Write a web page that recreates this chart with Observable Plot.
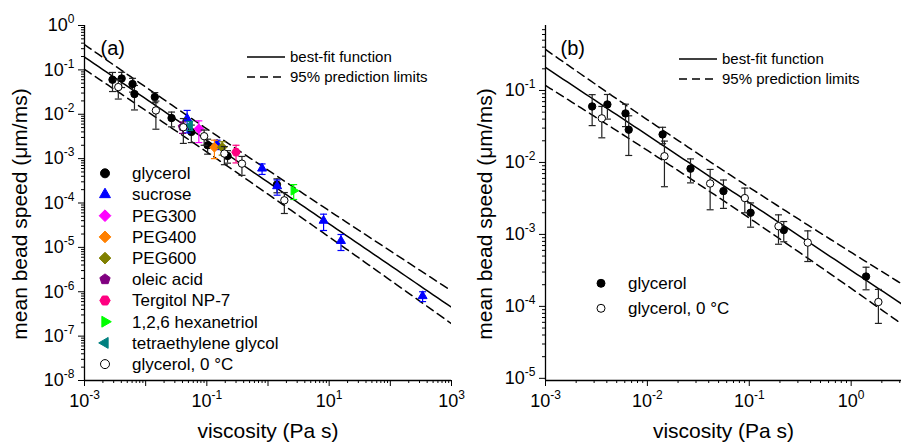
<!DOCTYPE html>
<html><head><meta charset="utf-8">
<script src="https://cdn.jsdelivr.net/npm/d3@7"></script>
<script src="https://cdn.jsdelivr.net/npm/@observablehq/plot@0.6"></script>
<style>
body{margin:0;background:#fff;font-family:"Liberation Sans",Arial,sans-serif;}
#wrap{position:relative;width:901px;height:447px;overflow:hidden;background:#fff;}
.panel{position:absolute;top:0;}
</style></head><body><div id="wrap"></div><script>
// ---------------- data ----------------
const glyEta    = [0.00287,0.00405,0.0061,0.00656,0.0141,0.0265,0.0558,0.103,0.218,1.40];
const glySpeed  = [0.060,0.064,0.048,0.0285,0.0245,0.0082,0.0040,0.0020,0.00115,0.00026];
const glySD     = [0.0275,0.024,0.0165,0.016,0.0063,0.003,0.0017,0.00074,0.00036,0.00009];
const gly0Eta   = [0.00357,0.0147,0.0413,0.0904,0.1935,0.375,1.85];
const gly0Speed = [0.041,0.0122,0.0051,0.0032,0.0013,0.00077,0.000115];
const gly0SD    = [0.019,0.0076,0.0029,0.0012,0.00057,0.00035,0.000057];
const sucEta    = [0.0476,0.147,0.80,1.41,8.1,15.6,337];
const sucSpeed  = [0.0080,0.0021,0.0006,0.00024,4.0e-5,1.4e-5,8.0e-7];
const sucSD     = [0.0042,0.0005,0.00016,0.00009,1.6e-5,5.5e-6,2e-7];
const peg300Eta = [0.074],  peg300Speed = [0.0047],  peg300SD = [0.0024];
const peg400Eta = [0.133],  peg400Speed = [0.0018],  peg400SD = [0.0008];
const peg600Eta = [0.178],  peg600Speed = [0.0018],  peg600SD = [0.0006];
const oleicEta  = [0.040],  oleicSpeed  = [0.0052],  oleicSD  = [0.0015];
const tergEta   = [0.30],   tergSpeed   = [0.0014],  tergSD   = [0.0006];
const hexEta    = [2.63],   hexSpeed    = [0.00019], hexSD    = [0.00007];
const tegEta    = [0.0526], tegSpeed    = [0.0056],  tegSD    = [0.0013];

const seriesNames  = ["glycerol","sucrose","PEG300","PEG400","PEG600","oleic acid","Tergitol NP-7","1,2,6 hexanetriol","tetraethylene glycol","glycerol, 0 °C"];
const seriesColors = ["#000000","#0000FF","#FF00FF","#FF8000","#808000","#800080","#FF0080","#00FF00","#008080","#000000"];
const lineLegend   = ["best-fit function","95% prediction limits"];

// best fit: log10(v) = intercept + slope*log10(eta); prediction half-width s*sqrt(1+(logeta-xm)^2/S)
const fitA = {intercept:-3.53, slope:-0.94, s:0.26, xm:-1.3, S:18};
const fitB = {intercept:-3.50, slope:-0.94, s:0.208, xm:-1.5, S:5};

const xTicksA = [-3,-2,-1,0,1,2,3];
const yTicksA = [-8,-7,-6,-5,-4,-3,-2,-1,0];
const xTicksB = [-3,-2,-1,0];
const yTicksB = [-5,-4,-3,-2,-1];

// ---------------- helpers ----------------
const rows = (eta, v, sd) => eta.map((e,i)=>({eta:e, v:v[i], lo:Math.max(v[i]-sd[i], v[i]*0.05), hi:v[i]+sd[i]}));
const polySym = (n, rot, k) => ({draw(ctx, size){ const R=Math.sqrt(size/Math.PI)*k;
  for(let i=0;i<n;i++){const a=rot+2*Math.PI*i/n; const px=R*Math.cos(a), py=R*Math.sin(a); if(i) ctx.lineTo(px,py); else ctx.moveTo(px,py);} ctx.closePath(); }});
const SYM = {circle:d3.symbolCircle, triUp:polySym(3,-Math.PI/2,1.4), triRight:polySym(3,0,1.4), triLeft:polySym(3,Math.PI,1.4),
  diamond:polySym(4,-Math.PI/2,1.3), pentagon:polySym(5,-Math.PI/2,1.2), hexagon:polySym(6,0,1.15)};
const capSym = {draw(ctx,size){const w=Math.sqrt(size/Math.PI); ctx.moveTo(-w,0); ctx.lineTo(w,0);}};

const seriesA = [
  {rows:rows(glyEta,glySpeed,glySD), symbol:SYM.circle, fill:seriesColors[0], stroke:seriesColors[0], err:"#222"},
  {rows:rows(sucEta,sucSpeed,sucSD), symbol:SYM.triUp, fill:seriesColors[1], stroke:seriesColors[1], err:seriesColors[1]},
  {rows:rows(peg300Eta,peg300Speed,peg300SD), symbol:SYM.diamond, fill:seriesColors[2], stroke:seriesColors[2], err:seriesColors[2]},
  {rows:rows(peg400Eta,peg400Speed,peg400SD), symbol:SYM.diamond, fill:seriesColors[3], stroke:seriesColors[3], err:seriesColors[3]},
  {rows:rows(peg600Eta,peg600Speed,peg600SD), symbol:SYM.diamond, fill:seriesColors[4], stroke:seriesColors[4], err:seriesColors[4]},
  {rows:rows(oleicEta,oleicSpeed,oleicSD), symbol:SYM.pentagon, fill:seriesColors[5], stroke:seriesColors[5], err:seriesColors[5]},
  {rows:rows(tergEta,tergSpeed,tergSD), symbol:SYM.hexagon, fill:seriesColors[6], stroke:seriesColors[6], err:seriesColors[6]},
  {rows:rows(hexEta,hexSpeed,hexSD), symbol:SYM.triRight, fill:seriesColors[7], stroke:seriesColors[7], err:seriesColors[7]},
  {rows:rows(tegEta,tegSpeed,tegSD), symbol:SYM.triLeft, fill:seriesColors[8], stroke:seriesColors[8], err:seriesColors[8]},
  {rows:rows(gly0Eta,gly0Speed,gly0SD), symbol:SYM.circle, fill:"white", stroke:seriesColors[9], err:"#222"}
];
seriesA.forEach((s,i)=>s.name=seriesNames[i]);
const seriesB = [seriesA[0], seriesA[9]];

function fitRows(f, lo, hi){
  return d3.range(0,81).map(i=>{const lx=lo+(hi-lo)*i/80; const ly=f.intercept+f.slope*lx;
    const w=f.s*Math.sqrt(1+(lx-f.xm)**2/f.S);
    return {x:10**lx, y:10**ly, up:10**(ly+w), dn:10**(ly-w)};});
}
const minors = (a,b,max)=>{const r=[]; for(let e=a;e<b;e++) for(let k=2;k<=9;k++){const v=k*10**e; if(v<=max) r.push(v);} return r;};

function seriesMarks(list, r){
  return list.flatMap(s=>[
    Plot.ruleX(s.rows,{x:"eta",y1:"lo",y2:"hi",stroke:s.err,strokeWidth:1.2}),
    Plot.dot(s.rows,{x:"eta",y:"hi",symbol:capSym,r:3.5,stroke:s.err,fill:"none",strokeWidth:1.2}),
    Plot.dot(s.rows,{x:"eta",y:"lo",symbol:capSym,r:3.5,stroke:s.err,fill:"none",strokeWidth:1.2}),
    Plot.dot(s.rows,{x:"eta",y:"v",symbol:s.symbol,r:r,fill:s.fill,stroke:s.stroke,strokeWidth:1})
  ]);
}

function makePanel(cfg){
  const xd=cfg.xDomain, yd=cfg.yDomain;
  const fr = fitRows(cfg.fit, Math.log10(xd[0]), Math.log10(xd[1]));
  return Plot.plot({
    width:cfg.width, height:447,
    marginLeft:cfg.ml, marginRight:cfg.mr, marginTop:25, marginBottom:67,
    x:{type:"log", domain:xd, axis:null},
    y:{type:"log", domain:yd, axis:null},
    style:{fontFamily:"'Liberation Sans', Arial, sans-serif", color:"black", background:"white", overflow:"visible"},
    marks:[
      Plot.line(fr,{x:"x",y:"y",stroke:"black",strokeWidth:1.5,clip:true}),
      Plot.line(fr,{x:"x",y:"up",stroke:"black",strokeWidth:1.5,strokeDasharray:"8,5",clip:true}),
      Plot.line(fr,{x:"x",y:"dn",stroke:"black",strokeWidth:1.5,strokeDasharray:"8,5",clip:true}),
      ...seriesMarks(cfg.series, 3.7),
      Plot.ruleY([yd[0]],{stroke:"black",strokeWidth:1.3}),
      Plot.ruleX([xd[0]],{stroke:"black",strokeWidth:1.3}),
      Plot.axisX(minors(cfg.xTicks[0], cfg.xTicks[cfg.xTicks.length-1]+1, xd[1]),{tickSize:3,tickFormat:()=>"",label:null}),
      Plot.axisY(minors(cfg.yTicks[0], cfg.yTicks[cfg.yTicks.length-1]+1, yd[1]),{tickSize:3,tickFormat:()=>"",label:null}),
      Plot.axisX(cfg.xTicks.map(e=>10**e),{tickSize:6,tickPadding:8,fontSize:18,label:null,
        tickFormat:d=>{const e=Math.round(Math.log10(d)); return cfg.xLabel(e)?("10|"+e):"";}}),
      Plot.axisY(cfg.yTicks.map(e=>10**e),{tickSize:6,tickPadding:4,fontSize:18,label:null,
        tickFormat:d=>"10|"+Math.round(Math.log10(d))}),
      Plot.text(["viscosity (Pa s)"],{frameAnchor:"bottom",dy:57,fontSize:21,textAnchor:"middle"}),
      Plot.text(["mean bead speed (μm/ms)"],{frameAnchor:"left",rotate:-90,dx:cfg.ytdx,dy:11,fontSize:21,textAnchor:"middle"}),
      Plot.text([cfg.tag],{frameAnchor:"top-left",dx:cfg.tagdx,dy:15,fontSize:20,textAnchor:"start"})
    ]
  });
}

function supTicks(svg){
  d3.select(svg).selectAll("text").each(function(){
    const t=this.textContent; if(!t.includes("|")) return;
    const [b,e]=t.split("|"); const s=d3.select(this); s.text(b);
    s.append("tspan").attr("dy","-8").attr("font-size","12px").text(e);
  });
}
function lineLegend_(svg, x0, y0){
  const g=d3.select(svg).append("g").attr("text-anchor","start");
  g.append("line").attr("x1",x0).attr("x2",x0+38).attr("y1",y0).attr("y2",y0).attr("stroke","black").attr("stroke-width",1.5);
  g.append("line").attr("x1",x0).attr("x2",x0+38).attr("y1",y0+20).attr("y2",y0+20).attr("stroke","black").attr("stroke-width",1.5).attr("stroke-dasharray","8,5");
  lineLegend.forEach((t,i)=>g.append("text").attr("text-anchor","start").attr("x",x0+43).attr("y",y0+20*i).attr("dy","0.35em").attr("font-size",15).text(t));
}
function symLegend(svg, list, xs, xt, y0, step, r){
  const g=d3.select(svg).append("g").attr("text-anchor","start");
  list.forEach((s,i)=>{const y=y0+step*i;
    g.append("path").attr("transform",`translate(${xs},${y})`).attr("d",d3.symbol(s.symbol,Math.PI*r*r)())
      .attr("fill",s.fill).attr("stroke",s.stroke).attr("stroke-width",1);
    g.append("text").attr("text-anchor","start").attr("x",xt).attr("y",y).attr("dy","0.35em").attr("font-size",17).text(s.name);
  });
}

const wrap=document.getElementById("wrap");
const svgA=makePanel({width:470, ml:84, mr:19, xDomain:[1e-3,1e3], yDomain:[1e-8,1], fit:fitA, series:seriesA,
  xTicks:xTicksA, yTicks:yTicksA, xLabel:e=>Math.abs(e)%2===1, ytdx:-64, tag:"(a)", tagdx:16});
const svgB=makePanel({width:431, ml:75, mr:0, xDomain:[1e-3,10**0.494], yDomain:[10**-5.03,10**-0.097], fit:fitB, series:seriesB,
  xTicks:xTicksB, yTicks:yTicksB, xLabel:()=>true, ytdx:-60, tag:"(b)", tagdx:15});
svgA.classList.add("panel"); svgA.style.left="0px";
svgB.classList.add("panel"); svgB.style.left="470px";
wrap.appendChild(svgA); wrap.appendChild(svgB);
supTicks(svgA); supTicks(svgB);
lineLegend_(svgA, 247, 57);
lineLegend_(svgB, 679-470, 59);
symLegend(svgA, seriesA, 105, 132, 173.3, 21.2, 4.5);
symLegend(svgB, seriesB, 601-470, 628-470, 283.3, 25, 4);
</script></body></html>
